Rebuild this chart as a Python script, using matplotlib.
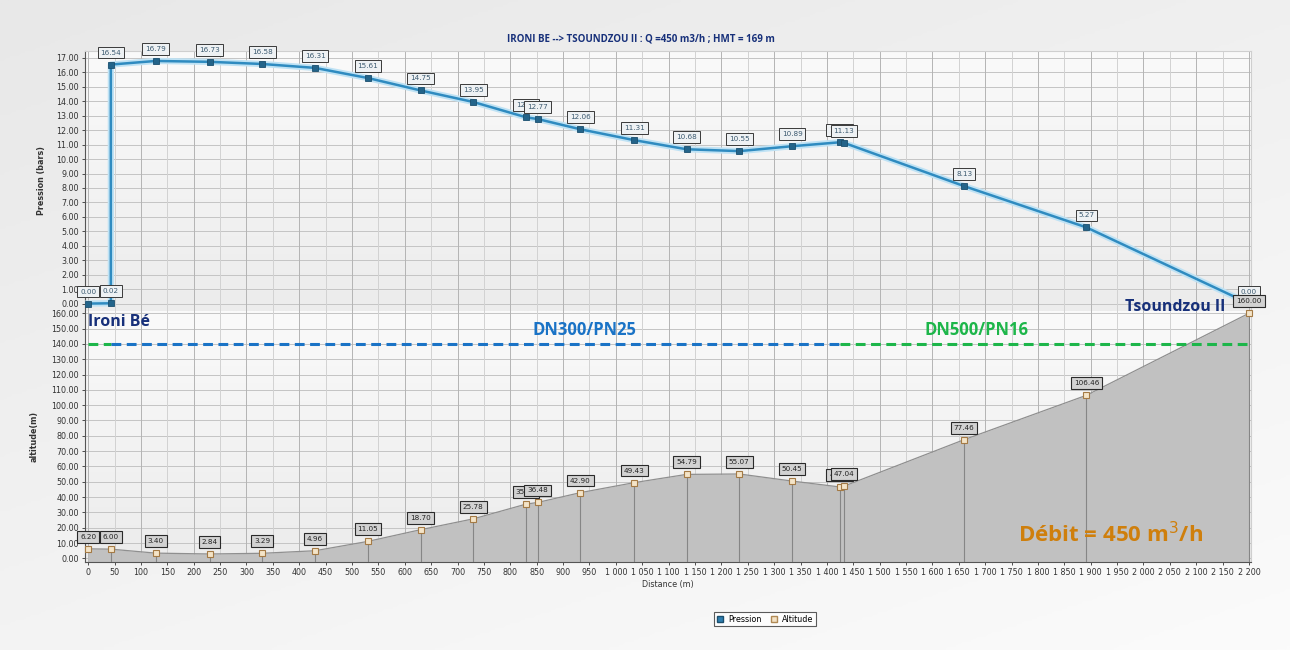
import numpy as np
import matplotlib
matplotlib.use("Agg")
import matplotlib.pyplot as plt
from matplotlib.ticker import MultipleLocator, FuncFormatter, FixedLocator
from matplotlib.lines import Line2D

# ---- data -------------------------------------------------------------
# stations along the pipe (m)
distance = [0, 43, 128, 230, 330, 430, 530, 630, 730, 830, 852, 933,
            1035, 1134, 1234, 1334, 1424, 1432, 1660, 1892, 2200]
# ground altitude at each station (m)
altitude = [6.20, 6.00, 3.40, 2.84, 3.29, 4.96, 11.05, 18.70, 25.78, 35.40,
            36.48, 42.90, 49.43, 54.79, 55.07, 50.45, 46.62, 47.04, 77.46,
            106.46, 160.00]
# pressure profile (the pump at 43 m lifts the line from 0.02 to 16.54 bar)
pressure_distance = [0, 43, 43, 128, 230, 330, 430, 530, 630, 730, 830, 852,
                     933, 1035, 1134, 1234, 1334, 1424, 1432, 1660, 1892, 2200]
pressure = [0.00, 0.02, 16.54, 16.79, 16.73, 16.58, 16.31, 15.61, 14.75,
            13.95, 12.89, 12.77, 12.06, 11.31, 10.68, 10.55, 10.89, 11.16,
            11.13, 8.13, 5.27, 0.00]
pressure_ticks = list(range(0, 18))
altitude_ticks = list(range(0, 170, 10))
distance_ticks = list(range(0, 2250, 50))

pump_index = 1          # station where DN300/PN25 starts
change_index = 16       # station where DN500/PN16 starts
pipe_level = 140        # altitude of the pipe-section markers

title = "IRONI BE --> TSOUNDZOU II : Q =450 m3/h ; HMT = 169 m"

# ---- style ------------------------------------------------------------
P_LINE = "#2f8bc0"
P_HALO = "#bfe2f4"
P_MARK = "#23648a"
A_FILL = "#c1c1c1"
A_EDGE = "#8f8f8f"
NAVY = "#17307a"
BLUE = "#1a73c6"
GREEN = "#1db64a"
ORANGE = "#cf7f0c"
TXT = "#333333"

fig = plt.figure(figsize=(12.9, 6.5), dpi=100)

# soft page background
bg = fig.add_axes([0, 0, 1, 1], zorder=-10)
grad = np.linspace(0, 1, 256)[:, None] * np.ones((1, 256))
grad = grad * 0.6 + np.linspace(0, 1, 256)[None, :] * 0.4
bg.imshow(grad, cmap=matplotlib.colors.LinearSegmentedColormap.from_list(
    "bgc", ["#e8e8e8", "#fbfbfb"]), aspect="auto", extent=[0, 1, 0, 1],
    origin="upper")
bg.axis("off")

left, width = 85 / 1290, (1250.6 - 85) / 1290
ax_p = fig.add_axes([left, 1 - 310.8 / 650, width, (310.8 - 50.7) / 650])
ax_a = fig.add_axes([left, 1 - 561.7 / 650, width, (561.7 - 310.8) / 650],
                    sharex=ax_p)

panel_cmap = matplotlib.colors.LinearSegmentedColormap.from_list(
    "pc", ["#fafafa", "#ececec"])
for ax in (ax_p, ax_a):
    ax.patch.set_alpha(0)
    ax.imshow(np.linspace(0, 1, 128)[:, None] * np.ones((1, 4)),
              cmap=panel_cmap, aspect="auto", extent=[0, 1, 0, 1],
              transform=ax.transAxes, zorder=0, origin="upper")
    ax.set_xlim(-6, 2203)
    ax.xaxis.set_major_locator(FixedLocator(distance_ticks))
    ax.grid(which="major", axis="y", color="#c4c4c4", lw=0.7, zorder=1)
    # vertical grid: every 50 m, a little stronger every 100 m
    for xv in distance_ticks:
        ax.axvline(xv, color="#b4b4b4" if xv % 100 == 0 else "#d2d2d2",
                   lw=0.7, zorder=1)
    ax.set_axisbelow(True)
    for s in ("top", "right"):
        ax.spines[s].set_color("#cfcfcf")
        ax.spines[s].set_linewidth(0.8)
    ax.spines["left"].set_color("#555555")
    ax.spines["bottom"].set_color("#555555")
    ax.tick_params(which="both", labelsize=5.8, colors=TXT, length=2.5,
                   width=0.6, pad=2)

ax_p.spines["bottom"].set_visible(False)
ax_a.spines["top"].set_visible(False)

# ---- pressure panel ---------------------------------------------------
ax_p.set_ylim(-0.5, 17.5)
ax_p.yaxis.set_major_locator(FixedLocator(pressure_ticks))
ax_p.yaxis.set_major_formatter(FuncFormatter(lambda v, _: f"{v:.2f}"))
ax_p.tick_params(axis="x", which="both", labelbottom=False, length=0)
ax_p.set_ylabel("Pression (bars)", fontsize=5.8, fontweight="bold",
                color=TXT, labelpad=7)

ax_p.plot(pressure_distance, pressure, color=P_HALO, lw=4.5,
          solid_joinstyle="round", zorder=3)
ax_p.plot(pressure_distance, pressure, color=P_LINE, lw=1.8, zorder=4,
          marker="s", ms=4, mfc=P_MARK, mec="#1b4f6e", mew=0.6)

for i, (x, v) in enumerate(zip(pressure_distance, pressure)):
    ax_p.annotate(f"{v:.2f}", (x, v), xytext=(0, 6.5),
                  textcoords="offset points", ha="center", va="bottom",
                  fontsize=5.2, color="#3c5a70", zorder=6,
                  annotation_clip=False,
                  bbox=dict(boxstyle="square,pad=0.4", fc="#eef1f3",
                            ec="#3a3a3a", lw=0.7))

# ---- altitude panel ---------------------------------------------------
ax_a.set_ylim(-2.2, 161.6)
ax_a.yaxis.set_major_locator(FixedLocator(altitude_ticks))
ax_a.yaxis.set_major_formatter(FuncFormatter(lambda v, _: f"{v:.2f}"))
ax_a.xaxis.set_major_formatter(
    FuncFormatter(lambda v, _: f"{v:,.0f}".replace(",", " ")))
ax_a.set_ylabel("altitude(m)", fontsize=5.8, fontweight="bold",
                color=TXT, labelpad=9)
ax_a.set_xlabel("Distance (m)", fontsize=5.8, color=TXT, labelpad=2)

ax_a.fill_between(distance, altitude, -2.2, color=A_FILL, lw=0, zorder=2)
ax_a.plot(distance, altitude, color=A_EDGE, lw=0.9, zorder=3)
ax_a.vlines(distance[1:], -2.2, altitude[1:], color="#868686", lw=0.8,
            zorder=3)
ax_a.plot(distance, altitude, ls="none", marker="s", ms=4.2, mfc="#f4e4c8",
          mec="#a47a45", mew=0.8, zorder=5, clip_on=False)

for x, v in zip(distance, altitude):
    ax_a.annotate(f"{v:.2f}", (x, v), xytext=(0, 6.5),
                  textcoords="offset points", ha="center", va="bottom",
                  fontsize=5.2, color="#222222", zorder=6,
                  annotation_clip=False,
                  bbox=dict(boxstyle="square,pad=0.4", fc="#d2d2d2",
                            ec="#2a2a2a", lw=0.8))

# pipe sections
x0, x1, x2, x3 = (distance[0], distance[pump_index],
                  distance[change_index], distance[-1])
dash = (0, (3.2, 1.8))
ax_a.plot([x0, x1], [pipe_level] * 2, color=GREEN, lw=2.2, ls=dash,
          zorder=4)
ax_a.plot([x1, x2], [pipe_level] * 2, color=BLUE, lw=2.2, ls=dash,
          zorder=4)
ax_a.plot([x2, x3], [pipe_level] * 2, color=GREEN, lw=2.2, ls=dash,
          zorder=4)

bold = dict(family="Open Sans", fontweight="bold", zorder=7)
ax_a.text(0, 154, "Ironi Bé", color=NAVY, fontsize=11.5, ha="left",
          va="center", **bold)
ax_a.text(2155, 164, "Tsoundzou II", color=NAVY, fontsize=11.5, ha="right",
          va="center", clip_on=False, **bold)
ax_a.text(940, 149, "DN300/PN25", color=BLUE, fontsize=12, ha="center",
          va="center", **bold)
ax_a.text(1683, 149, "DN500/PN16", color=GREEN, fontsize=12, ha="center",
          va="center", **bold)
ax_a.text(1762, 15.5, "Débit = 450 m$^3$/h", color=ORANGE, fontsize=16,
          ha="left", va="center", **bold)

fig.text(641 / 1290, 1 - 39 / 650, title, ha="center", va="center",
         fontsize=7, fontweight="bold", color=NAVY, family="Open Sans")

handles = [
    Line2D([], [], ls="none", marker="s", ms=5, mfc="#2f7fb0",
           mec="#1b4f6e", label="Pression"),
    Line2D([], [], ls="none", marker="s", ms=5, mfc="#f3e2c6",
           mec="#b08a55", label="Altitude"),
]
leg = fig.legend(handles=handles, loc="center",
                 bbox_to_anchor=(765 / 1290, 1 - 619 / 650), ncol=2,
                 fontsize=5.8, frameon=True, fancybox=False,
                 edgecolor="#333333", handlelength=0.8, handletextpad=0.6,
                 columnspacing=1.2, borderpad=0.35)
leg.get_frame().set_linewidth(0.8)
leg.get_frame().set_facecolor("#ffffff")

fig.savefig("out.png", dpi=100)
